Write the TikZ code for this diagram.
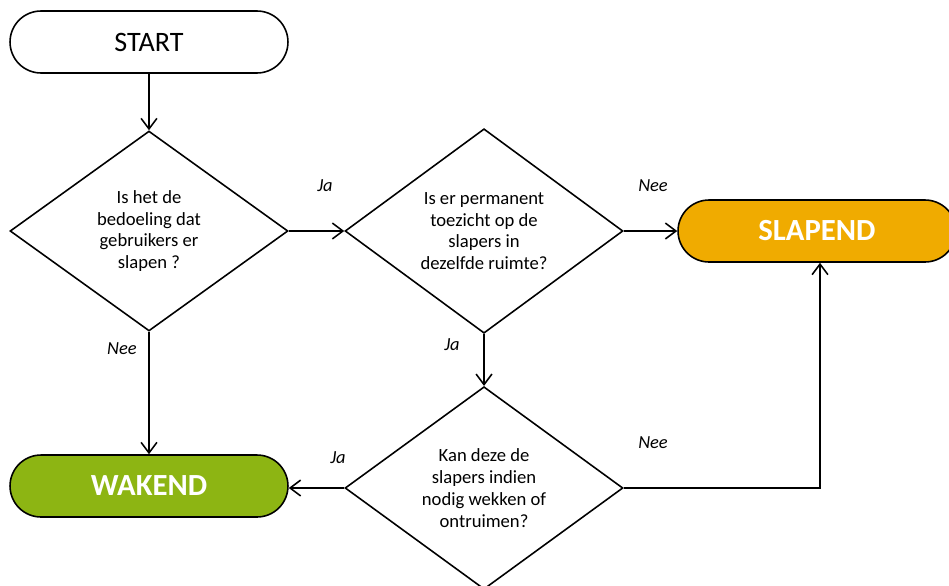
\documentclass[tikz,border=0pt]{standalone}
\usepackage{fontspec}
\setmainfont{Carlito}
\usetikzlibrary{shapes.geometric, arrows.meta}

\definecolor{slaaporanje}{HTML}{F0AB00}
\definecolor{waakgroen}{HTML}{8DB513}

\tikzset{
    terminal/.style={draw, line width=0.9pt, rectangle, rounded corners=0.62cm,
        minimum width=5.56cm, minimum height=1.24cm, font=\fontsize{16}{18}\selectfont},
    eindbox/.style={terminal, text=white, font=\fontsize{17.5}{20}\selectfont\bfseries},
    vraag/.style={draw, line width=0.9pt, diamond, minimum width=5.56cm, minimum height=4cm,
        inner sep=0pt, align=center, font=\fontsize{10.6}{12.4}\selectfont},
    pijl/.style={-{Straight Barb[length=6pt, width=9pt]}, line width=0.9pt},
    antwoord/.style={font=\fontsize{10.5}{12}\selectfont\itshape}
}

\begin{document}
\begin{tikzpicture}[x=0.02cm, y=-0.02cm]
    \useasboundingbox (0,0) rectangle (949,585);

    % Begin
    \node[terminal] (start) at (149,42) {START};

    % Vragen
    \node[vraag] (slapen) at (149,231) {Is het de\\bedoeling dat\\gebruikers er\\slapen ?};
    \node[vraag] (toezicht) at (484,231) {Is er permanent\\toezicht op de\\slapers in\\dezelfde ruimte?};
    \node[vraag] (wekken) at (484,488) {Kan deze de\\slapers indien\\nodig wekken of\\ontruimen?};

    % Uitkomsten
    \node[eindbox, fill=slaaporanje] (slapend) at (817,231) {SLAPEND};
    \node[eindbox, fill=waakgroen] (wakend) at (149,486) {WAKEND};

    % Verbindingen
    \draw[pijl] (start) -- (slapen);
    \draw[pijl] (slapen) -- (toezicht);
    \draw[pijl] (toezicht) -- (slapend);
    \draw[pijl] (slapen) -- (wakend);
    \draw[pijl] (toezicht) -- (wekken);
    \draw[pijl] (wekken.west) -- (wakend.east |- wekken.west);
    \draw[pijl] (wekken.east) -| ([xshift=0.06cm]slapend.south);

    % Antwoorden
    \node[antwoord] (ja1) at (325,186) {Ja};
    \node[antwoord] (nee1) at (653,186) {Nee};
    \node[antwoord] (nee2) at (122,349) {Nee};
    \node[antwoord] (ja2) at (452,345) {Ja};
    \node[antwoord] (ja3) at (338,458) {Ja};
    \node[antwoord] (nee3) at (653,443) {Nee};
\end{tikzpicture}
\end{document}
